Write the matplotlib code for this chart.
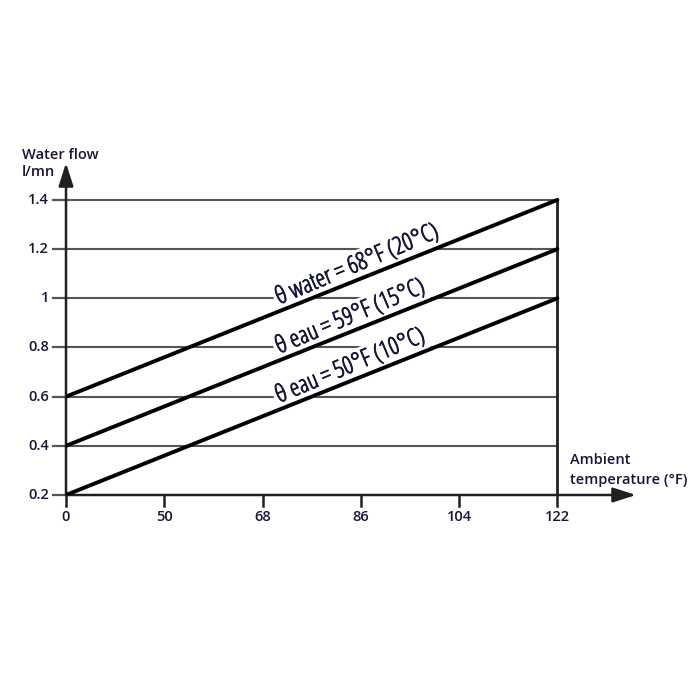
import numpy as np
import matplotlib.pyplot as plt
import matplotlib.patheffects as pe

# x axis ticks are evenly spaced although the values are not
temp_ticks = ["0", "50", "68", "86", "104", "122"]
flow_ticks = [0.2, 0.4, 0.6, 0.8, 1.0, 1.2, 1.4]
flow_labels = ["0.2", "0.4", "0.6", "0.8", "1", "1.2", "1.4"]

# water flow at 0 and at 122 F ambient for each water temperature
flow_start = [0.6, 0.4, 0.2]
flow_end = [1.4, 1.2, 1.0]
curve_labels = ["\u03b8 water = 68°F (20°C)",
                "\u03b8 eau = 59°F (15°C)",
                "\u03b8 eau = 50°F (10°C)"]

text_col = "#16163a"
grid_col = "#555555"

plt.rcParams['font.family'] = ['Open Sans', 'DejaVu Sans']

fig = plt.figure(figsize=(7, 7), dpi=100)
ax = fig.add_axes([66 / 700, 1 - 495 / 700, 570 / 700, 332 / 700])
ax.set_xlim(0, 5.8)
ax.set_ylim(0.2, 1.55)
ax.axis("off")

pos = np.arange(len(temp_ticks))
x0, x1 = pos[0], pos[-1]

# horizontal grid lines + little ticks on the left
for y, lab in zip(flow_ticks, flow_labels):
    if y != flow_ticks[0]:
        ax.plot([x0, x1], [y, y], color=grid_col, lw=1.5, zorder=1)
    ax.plot([-0.13, 0], [y, y], color=grid_col, lw=1.6, clip_on=False)
    ax.text(-0.17, y, lab, ha="right", va="center", fontsize=10.5,
            color=text_col, fontweight="semibold")

# x ticks
for p, lab in zip(pos, temp_ticks):
    ax.plot([p, p], [0.2, 0.2 - 0.045], color="#202020", lw=1.8, clip_on=False)
    ax.text(p, 0.2 - 0.06, lab, ha="center", va="top", fontsize=10.5,
            color=text_col, fontweight="semibold")

# right border at 122
ax.plot([x1, x1], [flow_ticks[0], flow_ticks[-1]], color="#202020", lw=2, zorder=2)

# axes with arrows
ax.annotate("", xy=(5.8, 0.2), xytext=(0, 0.2), annotation_clip=False,
            arrowprops=dict(arrowstyle="-|>,head_length=1.4,head_width=0.45",
                            color="#202020", lw=1.8, shrinkA=0, shrinkB=0))
ax.annotate("", xy=(0, 1.55), xytext=(0, 0.2), annotation_clip=False,
            arrowprops=dict(arrowstyle="-|>,head_length=1.4,head_width=0.45",
                            color="#202020", lw=1.8, shrinkA=0, shrinkB=0))

# the three lines (drawn above the label boxes)
for fs, fe in zip(flow_start, flow_end):
    ax.plot([x0, x1], [fs, fe], color="black", lw=2.8, zorder=5,
            solid_capstyle="round")

# angle of the lines on screen
p_a = ax.transData.transform((x0, flow_start[0]))
p_b = ax.transData.transform((x1, flow_end[0]))
angle = np.degrees(np.arctan2(p_b[1] - p_a[1], p_b[0] - p_a[0]))

for fs, fe, lab in zip(flow_start, flow_end, curve_labels):
    xt = 2.17
    yt = fs + (fe - fs) * (xt - x0) / (x1 - x0) + 0.027
    t = ax.text(xt, yt, lab, rotation=angle + 1, rotation_mode="anchor",
                ha="left", va="baseline", fontsize=17.5, color=text_col,
                fontstretch="condensed", zorder=4,
                bbox=dict(facecolor="white", edgecolor="none", pad=2))
    t.set_path_effects([pe.withStroke(linewidth=0.6, foreground=text_col)])

# axis titles
fig.text(22 / 700, 1 - 155 / 700, "Water flow", ha="left", va="center",
         fontsize=10.5, color=text_col, fontweight="semibold")
fig.text(22 / 700, 1 - 172 / 700, "l/mn", ha="left", va="center",
         fontsize=10.5, color=text_col, fontweight="semibold")
fig.text(570 / 700, 1 - 460 / 700, "Ambient", ha="left", va="center",
         fontsize=10.5, color=text_col, fontweight="semibold")
fig.text(570 / 700, 1 - 480 / 700, "temperature (°F)", ha="left", va="center",
         fontsize=10.5, color=text_col, fontweight="semibold")

fig.savefig("out.png", dpi=100, facecolor="white")
